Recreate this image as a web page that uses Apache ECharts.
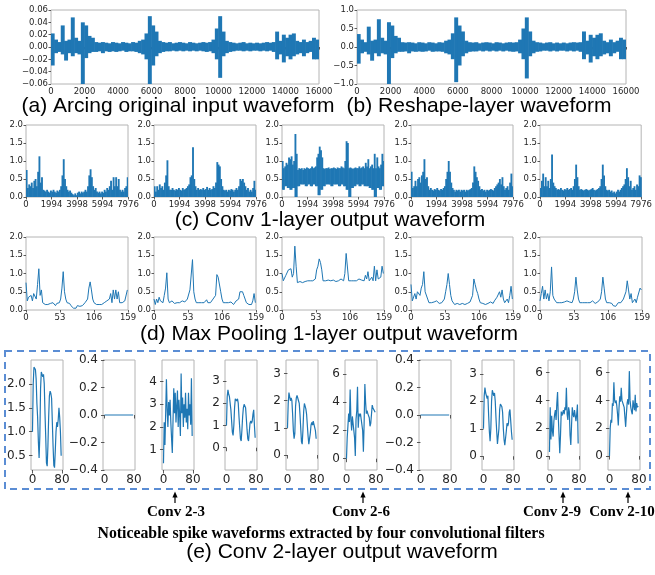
<!DOCTYPE html>
<html>
<head>
<meta charset="utf-8">
<script src="https://cdn.jsdelivr.net/npm/echarts@6/dist/echarts.min.js"></script>
<style>
html,body{margin:0;padding:0;background:#fff;}
#chart{width:655px;height:575px;}
</style>
</head>
<body>
<div id="chart"></div>
<script>
// ---------- DATA ----------
// (a) arcing original input waveform: per-bin (200 samples) max / min envelope, 16000 samples
const inputBinSize = 200;
const inputUpper = [0.022,0.012,0.008,0.035,0.010,0.012,0.048,0.015,0.010,0.040,0.035,0.018,0.015,0.008,0.007,0.008,0.007,0.006,0.008,0.007,
  0.006,0.008,0.007,0.006,0.008,0.007,0.010,0.012,0.022,0.050,0.035,0.025,0.010,0.008,0.007,0.008,0.006,0.007,0.008,0.007,
  0.006,0.008,0.007,0.006,0.007,0.008,0.007,0.008,0.012,0.030,0.050,0.025,0.010,0.008,0.007,0.006,0.007,0.008,0.006,0.007,
  0.006,0.007,0.006,0.007,0.008,0.007,0.008,0.025,0.010,0.020,0.015,0.020,0.022,0.010,0.008,0.012,0.008,0.010,0.015,0.012];
const inputLower = [-0.030,-0.010,-0.008,-0.012,-0.022,-0.010,-0.015,-0.010,-0.012,-0.060,-0.018,-0.010,-0.008,-0.008,-0.007,-0.010,-0.007,-0.008,-0.007,-0.008,
  -0.007,-0.006,-0.008,-0.007,-0.007,-0.008,-0.010,-0.012,-0.020,-0.060,-0.030,-0.015,-0.010,-0.008,-0.007,-0.007,-0.006,-0.007,-0.006,-0.007,
  -0.006,-0.007,-0.006,-0.007,-0.006,-0.007,-0.008,-0.007,-0.010,-0.020,-0.050,-0.015,-0.010,-0.008,-0.007,-0.006,-0.006,-0.007,-0.006,-0.007,
  -0.006,-0.006,-0.007,-0.006,-0.007,-0.006,-0.008,-0.020,-0.012,-0.025,-0.015,-0.020,-0.015,-0.012,-0.010,-0.015,-0.010,-0.008,-0.020,-0.020];
// (b) reshape-layer waveform envelope
const reshapeUpper = [0.35,0.20,0.13,0.55,0.17,0.20,0.75,0.25,0.17,0.67,0.58,0.30,0.25,0.13,0.12,0.13,0.12,0.10,0.13,0.12,
  0.10,0.13,0.12,0.10,0.13,0.12,0.17,0.20,0.37,0.80,0.58,0.42,0.17,0.13,0.12,0.13,0.10,0.12,0.13,0.12,
  0.10,0.13,0.12,0.10,0.12,0.13,0.12,0.13,0.20,0.50,0.80,0.42,0.17,0.13,0.12,0.10,0.12,0.13,0.10,0.12,
  0.10,0.12,0.10,0.12,0.13,0.12,0.13,0.42,0.17,0.33,0.25,0.33,0.37,0.17,0.13,0.20,0.13,0.17,0.25,0.20];
const reshapeLower = [-0.45,-0.17,-0.13,-0.20,-0.37,-0.17,-0.25,-0.17,-0.20,-1.00,-0.30,-0.17,-0.13,-0.13,-0.12,-0.17,-0.12,-0.13,-0.12,-0.13,
  -0.12,-0.10,-0.13,-0.12,-0.12,-0.13,-0.17,-0.20,-0.33,-0.95,-0.50,-0.25,-0.17,-0.13,-0.12,-0.12,-0.10,-0.12,-0.10,-0.12,
  -0.10,-0.12,-0.10,-0.12,-0.10,-0.12,-0.13,-0.12,-0.17,-0.33,-0.85,-0.25,-0.17,-0.13,-0.12,-0.10,-0.10,-0.12,-0.10,-0.12,
  -0.10,-0.10,-0.12,-0.10,-0.12,-0.10,-0.13,-0.33,-0.20,-0.42,-0.25,-0.33,-0.25,-0.20,-0.17,-0.25,-0.17,-0.13,-0.33,-0.33];

// (d) max pooling 1-layer outputs (every 2nd pooled sample, 0..158); also the upper envelope of (c)
const poolStep = 2;
const poolSize = 50;
const pool1F1 = [0.75,0.25,0.35,0.3,0.4,0.25,0.45,0.5,0.3,0.7,1.13,0.4,0.55,0.2,0.18,0.15,0.2,0.15,0.12,0.18,
  0.15,0.2,0.15,0.12,0.18,0.15,0.2,0.3,0.6,1.05,0.5,0.3,0.2,0.15,0.18,0.12,0.08,0.05,0.1,0.05,
  0.12,0.15,0.1,0.15,0.12,0.15,0.2,0.15,0.3,0.6,0.77,0.55,0.3,0.2,0.25,0.15,0.12,0.15,0.1,0.15,
  0.12,0.2,0.15,0.25,0.2,0.3,0.45,0.2,0.55,0.3,0.55,0.3,0.5,0.2,0.15,0.2,0.15,0.25,0.3,0.55];
const pool1F2 = [0.3,0.15,0.3,0.2,0.35,0.25,0.3,0.2,0.4,0.6,1.02,0.3,0.2,0.2,0.25,0.2,0.18,0.22,0.2,0.25,
  0.2,0.18,0.25,0.2,0.22,0.25,0.3,0.35,0.55,0.6,1.38,0.5,0.3,0.2,0.25,0.2,0.22,0.2,0.25,0.2,
  0.22,0.28,0.2,0.25,0.2,0.22,0.3,0.25,0.4,0.97,0.9,0.85,0.5,0.3,0.2,0.18,0.2,0.15,0.2,0.18,
  0.22,0.2,0.15,0.2,0.25,0.2,0.3,0.5,0.45,0.5,0.4,0.3,0.2,0.25,0.15,0.2,0.15,0.25,0.45,0.2];
const pool1F3 = [1.0,0.8,0.85,0.95,0.9,1.1,1.05,1.13,0.9,1.0,1.75,1.2,0.75,0.8,0.78,0.8,0.75,0.8,0.78,0.82,
  0.8,0.78,0.8,0.85,0.8,0.82,0.85,1.1,1.2,1.4,1.3,1.1,0.8,0.78,0.8,0.8,0.82,0.78,0.8,0.8,
  0.82,0.8,0.78,0.82,0.8,0.8,0.85,0.82,0.8,1.0,1.55,1.5,0.8,0.82,0.8,0.78,0.8,0.82,0.8,0.8,
  0.85,0.8,0.82,0.85,0.8,0.95,0.85,1.05,0.8,0.85,0.9,0.8,1.2,0.8,1.1,0.85,0.8,0.9,1.2,1.0];
const pool1F4 = [0.7,0.25,0.3,0.45,0.3,0.5,0.55,0.4,0.6,0.7,1.05,0.5,0.55,0.3,0.2,0.25,0.2,0.18,0.22,0.2,
  0.25,0.2,0.18,0.22,0.2,0.25,0.3,0.5,0.7,1.0,0.7,0.4,0.25,0.2,0.15,0.2,0.18,0.2,0.15,0.2,
  0.18,0.2,0.15,0.2,0.18,0.2,0.22,0.25,0.4,0.85,0.7,0.55,0.45,0.3,0.2,0.22,0.18,0.2,0.15,0.2,
  0.18,0.2,0.22,0.2,0.18,0.25,0.3,0.35,0.4,0.5,0.35,0.55,0.3,0.2,0.25,0.3,0.2,0.4,0.65,0.3];
const pool1F5 = [0.25,0.45,0.65,0.3,0.55,0.3,0.45,0.25,0.5,1.18,0.4,0.3,0.25,0.2,0.22,0.2,0.25,0.2,0.18,0.22,
  0.2,0.25,0.2,0.22,0.25,0.2,0.3,0.5,0.9,0.55,0.3,0.2,0.22,0.2,0.18,0.2,0.22,0.2,0.18,0.2,
  0.22,0.25,0.2,0.18,0.2,0.22,0.25,0.3,0.5,0.9,0.6,0.3,0.2,0.18,0.2,0.15,0.18,0.12,0.15,0.1,
  0.15,0.2,0.15,0.2,0.25,0.3,0.35,0.5,0.8,0.55,0.3,0.45,0.2,0.25,0.3,0.2,0.35,0.3,0.6,0.55];
// (c) lower envelope: filter 3 (one value per 4 pooled samples = 200 raw samples); other filters reach 0
const conv1LowerF3 = [0.2,0.3,0.25,0.2,0.25,0.0,0.3,0.35,0.35,0.3,0.35,0.3,0.35,0.3,0.05,0.2,0.3,0.35,0.35,0.3,
  0.35,0.35,0.3,0.35,0.3,0.2,0.0,0.25,0.3,0.35,0.3,0.35,0.3,0.3,0.25,0.2,0.0,0.25,0.2,0.3];
const conv1Floor = 0;
const conv1XTicks = [0,1994,3998,5994,7976];
const pool1XTicks = [0,53,106,159];

// (e) conv 2-layer outputs, every 2nd sample 0..78
const conv2Step = 2;
const conv2F1 = [1.0,2.0,2.35,2.32,2.3,2.1,1.6,1.3,0.8,0.45,0.9,1.9,2.25,2.2,2.15,2.2,2.0,1.4,0.9,0.35,
  0.28,0.7,1.3,1.75,1.85,1.8,1.7,1.2,0.7,0.3,0.25,0.6,1.0,1.2,1.1,1.25,1.5,1.3,1.0,0.5];
const conv2F2 = [0,0,0,0,0,0,0,0,0,0,0,0,0,0,0,0,0,0,0,0,0,0,0,0,0,0,0,0,0,0,0,0,0,0,0,0,0,0,0,0];
const conv2F3 = [0.4,2.2,1.2,2.6,4.1,2.8,2.0,3.1,2.5,3.2,2.2,1.5,0.85,2.3,3.7,2.6,3.5,2.2,2.9,3.6,
  2.0,3.2,2.5,1.6,4.35,2.6,3.3,2.0,3.0,2.4,3.5,2.2,2.8,1.9,3.5,2.5,3.0,2.1,4.15,1.6];
const conv2F4 = [1.0,2.3,2.6,2.4,2.3,2.0,1.7,1.2,0.7,0.55,1.0,1.8,2.2,2.2,2.1,2.2,2.0,1.4,0.9,0.4,
  0.3,0.8,1.4,1.8,1.95,1.9,1.8,1.3,0.8,0.4,0.3,0.7,1.1,1.2,1.1,1.2,1.5,1.7,1.0,0.45];
const conv2F5 = [1.0,1.9,2.3,2.35,2.0,2.1,2.0,1.5,0.9,0.6,0.8,1.8,2.1,2.2,2.25,2.0,1.9,1.5,1.0,0.5,
  0.4,0.9,1.6,1.9,1.85,1.7,1.5,1.1,0.7,0.4,0.35,0.8,1.1,1.2,1.1,1.25,1.3,1.2,0.9,0.6];
const conv2F6 = [0.0,1.5,1.4,3.2,2.6,4.9,2.8,2.0,3.0,2.9,3.0,1.5,0.2,2.8,3.4,5.1,2.2,3.2,3.0,3.2,
  2.8,2.9,2.0,0.5,2.5,5.3,4.0,3.2,3.4,3.2,3.3,2.9,2.3,2.5,2.4,3.8,3.6,3.5,3.7,3.3];
const conv2F7 = [0,0,0,0,0,0,0,0,0,0,0,0,0,0,0,0,0,0,0,0,0,0,0,0,0,0,0,0,0,0,0,0,0,0,0,0,0,0,0,0];
const conv2F8 = [1.0,2.2,2.5,2.3,2.3,2.1,2.2,1.5,0.9,0.55,1.0,2.0,2.4,2.35,2.2,2.3,2.0,1.4,0.9,0.45,
  0.4,1.0,1.7,1.9,1.95,1.8,1.6,1.0,0.6,0.4,0.45,0.9,1.2,1.1,1.2,1.6,1.7,1.3,0.9,0.6];
const conv2F9 = [0.3,3.5,1.2,2.9,1.8,1.4,2.5,3.0,3.3,2.6,3.8,4.6,2.8,1.5,0.2,1.5,3.2,2.9,3.1,3.3,
  3.0,3.5,3.3,4.9,3.0,2.6,3.5,3.2,1.5,0.8,2.2,3.5,3.0,2.8,3.3,2.9,2.5,3.0,3.7,0.9];
const conv2F10 = [0.0,2.0,2.6,2.4,3.8,3.6,5.3,4.0,3.8,4.0,3.6,3.0,2.2,3.5,4.3,3.9,4.9,4.0,4.1,3.9,
  3.5,2.8,2.1,3.0,3.8,4.1,3.7,6.1,4.0,3.5,3.2,3.0,4.0,3.6,3.3,4.4,3.2,3.8,3.5,3.6];
const conv2XTicks = [0,80];
const conv2YTicks = [[0.5,1.0,1.5,2.0],[-0.4,-0.2,0,0.2,0.4],[1,2,3,4],[0,1,2,3],[0,1,2,3],
  [0,2,4,6],[-0.4,-0.2,0,0.2,0.4],[0,1,2,3],[0,2,4,6],[0,2,4,6]];
const conv2YRange = [[0.2,2.5],[-0.4,0.4],[0.1,4.95],[-1.0,3.94],[-0.55,3.5],
  [-0.8,7.0],[-0.4,0.4],[-0.5,3.5],[-1.0,6.9],[-1.0,6.9]];
const conv2YDecimals = [1,1,0,0,0,0,1,0,0,0];

// ---------- LAYOUT / STYLE ----------
const BLUE = '#1f77b4';
const FRAME = '#b4b4b4';
const TXT = '#262626';
const FONT = 'DejaVu Sans';
const grids = [], xAxes = [], yAxes = [], series = [];

function fmt(dec){
  return function(v){
    if (Math.abs(v) < 1e-9) v = 0;
    const s = Math.abs(v).toFixed(dec);
    return (v < 0 ? '\u2212' : '') + s;
  };
}

function panel(rect, xc, yc, ser, small){
  const gi = grids.length;
  grids.push({left:rect[0], top:rect[1], width:rect[2], height:rect[3], show:true,
    borderColor:FRAME, borderWidth:1, backgroundColor:'transparent'});
  const fs = small ? 8.5 : 12;
  const tl = small ? 2.5 : 3.5;
  const xa = {gridIndex:gi, type:'value', min:xc.min, max:xc.max,
    axisLine:{show:false}, splitLine:{show:false},
    axisTick:{show:true, length:tl, lineStyle:{color:'#333', width:0.8}},
    axisLabel:{show:true, fontSize:fs, fontFamily:FONT, color:TXT, margin: small ? 3 : 4,
      formatter: v => String(Math.round(v))}};
  if (xc.ticks){ xa.axisTick.customValues = xc.ticks; xa.axisLabel.customValues = xc.ticks; }
  else xa.interval = xc.interval;
  xAxes.push(xa);
  const ya = {gridIndex:gi, type:'value', min:yc.min, max:yc.max,
    axisLine:{show:false}, splitLine:{show:false},
    axisTick:{show:true, length:tl, lineStyle:{color:'#333', width:0.8}},
    axisLabel:{show:true, fontSize:fs, fontFamily:FONT, color:TXT, margin: small ? 3 : 5,
      formatter: fmt(yc.dec)}};
  if (yc.ticks){ ya.axisTick.customValues = yc.ticks; ya.axisLabel.customValues = yc.ticks; }
  else ya.interval = yc.interval;
  yAxes.push(ya);
  ser.forEach(s => { s.xAxisIndex = gi; s.yAxisIndex = gi; series.push(s); });
}

function lineSeries(data, width){
  return {type:'line', data:data, showSymbol:false, symbol:'none', silent:true,
    lineStyle:{color:BLUE, width:width}, itemStyle:{color:BLUE}, animation:false, clip:true};
}

// dense waveform drawn as a band: each datum [xCenter, low, high, width-in-samples]
function bandSeries(data){
  return {type:'custom', data:data, silent:true, animation:false, clip:true,
    encode:{x:0, y:[1,2]},
    renderItem:function(params, api){
      const xc = api.value(0), lo = api.value(1), hi = api.value(2), w = api.value(3);
      const pHi = api.coord([xc, hi]);
      const pLo = api.coord([xc, lo]);
      const sz = api.size([w, 0]);
      const h = Math.max(pLo[1] - pHi[1], 0.8);
      return {type:'rect', shape:{x:pHi[0] - sz[0]/2 - 0.3, y:pHi[1], width:sz[0] + 0.6, height:h},
        style:{fill:BLUE, stroke:null}};
    }};
}

function envelopeBins(up, lo, bin){
  return up.map((u,i) => [i*bin + bin/2, lo[i], u, bin]);
}

// (a) and (b)
panel([51,10,268,74], {min:0,max:16000,interval:2000},
  {min:-0.06,max:0.06,interval:0.02,dec:2},
  [bandSeries(envelopeBins(inputUpper,inputLower,inputBinSize))], true);
panel([357,10,269,74], {min:0,max:16000,interval:2000},
  {min:-1,max:1,interval:0.5,dec:1},
  [bandSeries(envelopeBins(reshapeUpper,reshapeLower,inputBinSize))], true);

// (c) and (d)
const pools = [pool1F1,pool1F2,pool1F3,pool1F4,pool1F5];
const rowLefts = [26,154,282,411,540];
pools.forEach((p,f) => {
  const w = poolStep*poolSize;
  const bins = p.map((v,k) => [k*w + w/2, f === 2 ? conv1LowerF3[Math.floor(k/2)] : conv1Floor, v, w]);
  panel([rowLefts[f],125,102,72], {min:0,max:7976,ticks:conv1XTicks},
    {min:0,max:2,interval:0.5,dec:1}, [bandSeries(bins)], true);
});
pools.forEach((p,f) => {
  panel([rowLefts[f],237,102,73], {min:0,max:159,ticks:pool1XTicks},
    {min:0,max:2,interval:0.5,dec:1},
    [lineSeries(p.map((v,k) => [k*poolStep, v]), 1)], true);
});

// (e)
const conv2 = [conv2F1,conv2F2,conv2F3,conv2F4,conv2F5,conv2F6,conv2F7,conv2F8,conv2F9,conv2F10];
const eLefts = [31,103,162,225,286,345,419,482,548,608];
conv2.forEach((c,f) => {
  panel([eLefts[f],360,32,110], {min:-4,max:83,ticks:conv2XTicks},
    {min:conv2YRange[f][0], max:conv2YRange[f][1], ticks:conv2YTicks[f], dec:conv2YDecimals[f]},
    [lineSeries(c.map((v,i) => [i*conv2Step, v]), 1.2)], false);
});

// ---------- annotations ----------
const CAP = 'Liberation Sans';
const SERIF = 'Liberation Serif';
function txt(t, x, y, size, family, bold){
  return {type:'text', x:x, y:y, silent:true, style:{text:t, x:0, y:0, fill:'#000',
    font:(bold?'bold ':'') + size + 'px "' + family + '"', align:'center', verticalAlign:'middle'}};
}
const graphics = [
  txt('(a) Arcing original input waveform', 178, 106, 21, CAP),
  txt('(b) Reshape-layer waveform', 479, 106, 21, CAP),
  txt('(c) Conv 1-layer output waveform', 330, 220, 21, CAP),
  txt('(d) Max Pooling 1-layer output waveform', 329, 334, 21, CAP),
  txt('(e) Conv 2-layer output waveform', 342, 552, 21, CAP),
  txt('Noticeable spike waveforms extracted by four convolutional filters', 321, 534, 15.8, SERIF, true),
  {type:'rect', silent:true, shape:{x:5,y:351,width:645,height:138},
    style:{fill:'none', stroke:'#5b8dd4', lineWidth:2, lineDash:[7,5]}}
];
const marks = [['Conv 2-3',175,176],['Conv 2-6',363,361],['Conv 2-9',563,552],['Conv 2-10',628,622]];
marks.forEach(m => {
  graphics.push({type:'line', silent:true, shape:{x1:m[1],y1:503,x2:m[1],y2:495}, style:{stroke:'#000', lineWidth:1.2}});
  graphics.push({type:'polygon', silent:true, shape:{points:[[m[1]-2.6,497.5],[m[1],491.5],[m[1]+2.6,497.5]]}, style:{fill:'#000'}});
  graphics.push(txt(m[0], m[2], 512, 15, SERIF, true));
});

const chart = echarts.init(document.getElementById('chart'), null, {renderer:'canvas'});
chart.setOption({
  animation:false,
  backgroundColor:'#fff',
  grid:grids, xAxis:xAxes, yAxis:yAxes, series:series,
  graphic:graphics
});
</script>
</body>
</html>
